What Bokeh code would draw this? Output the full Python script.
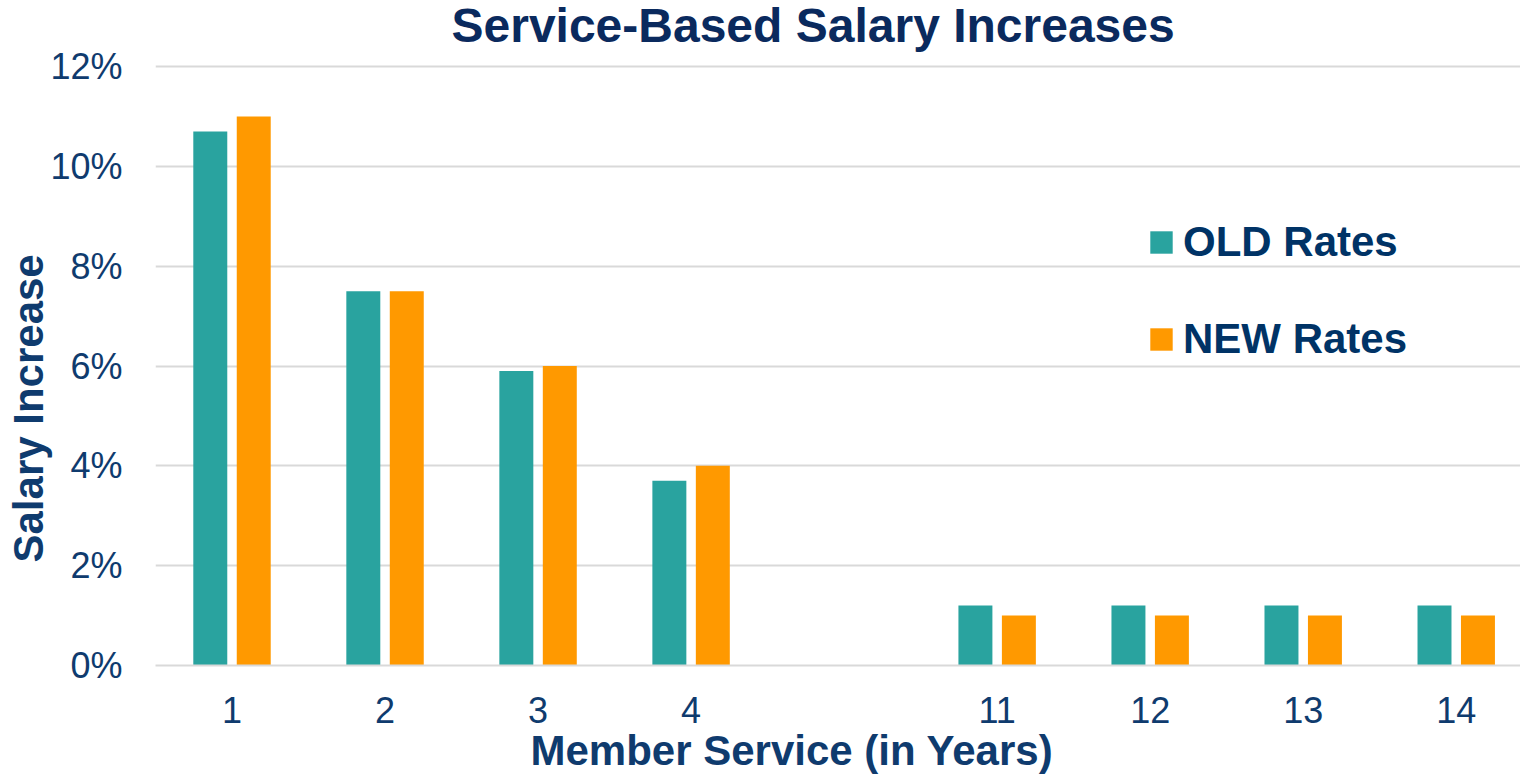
from bokeh.plotting import figure
from bokeh.models import ColumnDataSource, FixedTicker, Range1d, Legend, LegendItem, Label, Title
from bokeh.transform import dodge
from bokeh.embed import file_html
from bokeh.resources import INLINE

years = ["1", "2", "3", "4", "", "11", "12", "13", "14"]
old_rates = [10.7, 7.5, 5.9, 3.7, None, 1.2, 1.2, 1.2, 1.2]
new_rates = [11.0, 7.5, 6.0, 4.0, None, 1.0, 1.0, 1.0, 1.0]
y_ticks = [0, 2, 4, 6, 8, 10, 12]
y_tick_labels = ["0%", "2%", "4%", "6%", "8%", "10%", "12%"]

TEAL = "#29A39F"
ORANGE = "#FF9900"
NAVY = "#0F3B6E"
TITLE_NAVY = "#0A2A5E"
FONT = "Liberation Sans"

idx = [i for i, y in enumerate(years) if y]
src = ColumnDataSource(dict(
    x=idx,
    old=[old_rates[i] for i in idx],
    new=[new_rates[i] for i in idx],
))

# frame spans from the top of the page down to the 0% line, leaving
# headroom above the 12% gridline for the chart title
FRAME_BOTTOM = 665
PX_PER_UNIT = 599 / 12
y_top = FRAME_BOTTOM / PX_PER_UNIT

p = figure(width=1520, height=778, output_backend="svg", toolbar_location=None,
           x_range=Range1d(-0.5, 8.42), y_range=Range1d(0, y_top),
           min_border_left=155, min_border_right=0, min_border_bottom=113,
           min_border_top=0)
p.title.text = ""

r_old = p.vbar(x=dodge("x", -0.142, range=p.x_range), top="old", width=0.222,
               source=src, fill_color=TEAL, line_color=None)
r_new = p.vbar(x=dodge("x", 0.142, range=p.x_range), top="new", width=0.222,
               source=src, fill_color=ORANGE, line_color=None)

p.outline_line_color = None
p.xgrid.grid_line_color = None
p.ygrid.grid_line_color = "#D9D9D9"
p.ygrid.grid_line_width = 2
p.ygrid.ticker = FixedTicker(ticks=y_ticks)

p.yaxis.ticker = FixedTicker(ticks=y_ticks)
p.yaxis.major_label_overrides = {t: l for t, l in zip(y_ticks, y_tick_labels)}
p.xaxis.ticker = FixedTicker(ticks=idx)
p.xaxis.major_label_overrides = {i: years[i] for i in idx}

for ax in (p.xaxis[0], p.yaxis[0]):
    ax.major_tick_line_color = None
    ax.minor_tick_line_color = None
    ax.major_tick_out = 0
    ax.minor_tick_out = 0
    ax.major_label_text_font = FONT
    ax.major_label_text_font_size = "36px"
    ax.major_label_text_color = NAVY

p.yaxis.axis_line_color = None
p.yaxis.major_label_standoff = 33
p.xaxis.axis_line_color = "#D9D9D9"
p.xaxis.axis_line_width = 2
p.xaxis.major_label_standoff = 31

title = Label(x=296, y=640, x_units="screen", y_units="screen",
              text="Service-Based Salary Increases", text_font=FONT,
              text_font_size="48px", text_font_style="bold",
              text_color=TITLE_NAVY, text_baseline="alphabetic", text_align="left")
p.add_layout(title)

xtitle = Title(text="Member Service (in Years)", align="left", offset=375,
               standoff=-1, text_font=FONT, text_font_size="42px",
               text_font_style="bold", text_color=NAVY)
p.add_layout(xtitle, "below")
ytitle = Title(text="Salary Increase", align="left", offset=103,
               standoff=-8, text_font=FONT, text_font_size="42px",
               text_font_style="bold", text_color=NAVY)
p.add_layout(ytitle, "left")

legend = Legend(items=[LegendItem(label="OLD Rates", renderers=[r_old]),
                       LegendItem(label="NEW Rates", renderers=[r_new])],
                location=(992, 302), padding=0, margin=0, spacing=49,
                glyph_width=28, glyph_height=28, label_standoff=8,
                label_text_font=FONT, label_text_font_size="42px",
                label_text_font_style="bold", label_text_color="#003366",
                border_line_color=None, background_fill_alpha=0)
p.add_layout(legend)

open("out.html", "w").write(file_html(p, INLINE))
